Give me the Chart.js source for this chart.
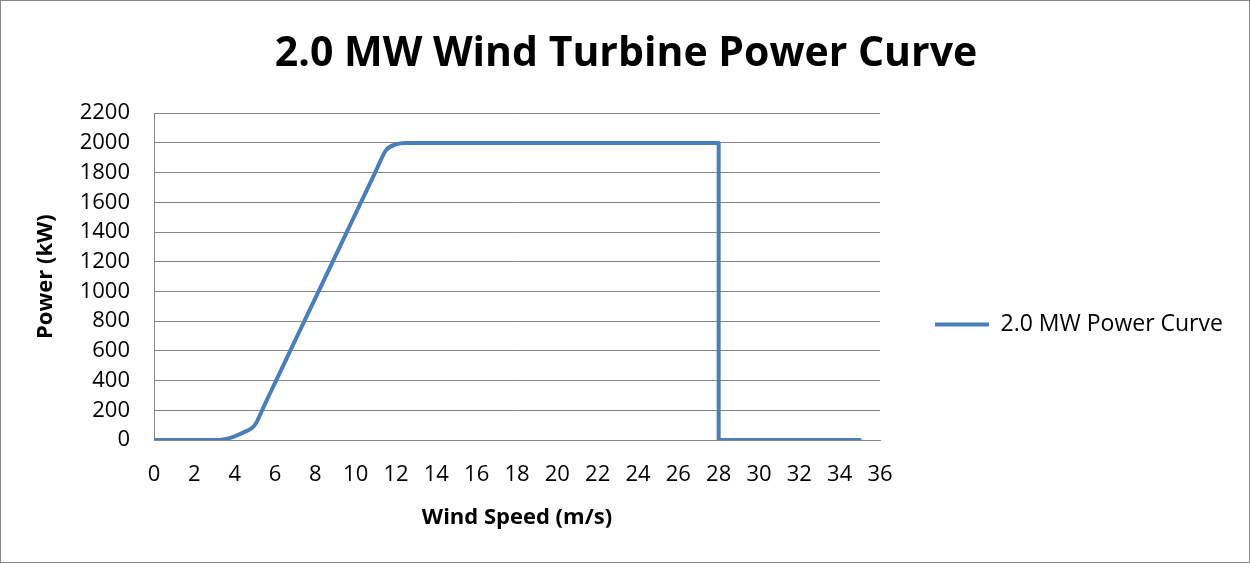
<!DOCTYPE html>
<html>
<head>
<meta charset="utf-8">
<script src="https://cdn.jsdelivr.net/npm/chart.js@4"></script>
<style>
  html, body { margin: 0; padding: 0; background: #fff; }
  #wrap { position: relative; width: 1248px; height: 561px; border: 1px solid #868686; }
</style>
</head>
<body>
<div id="wrap"><canvas id="chart" width="1248" height="561"></canvas></div>
<script>
// Curva de potência da turbina de 2,0 MW
const windSpeed = [0, 1, 2, 3, 3.5, 4, 4.5, 5, 5.5, 6, 7, 8, 9, 10, 11, 11.5, 12, 12.5, 13, 14, 15, 16, 17, 18, 19, 20, 21, 22, 23, 24, 25, 26, 27, 28, 28, 29, 30, 31, 32, 33, 34, 35];
const powerKW   = [0, 0, 0, 0, 6, 25, 55, 100, 242, 385, 670, 955, 1240, 1525, 1810, 1950, 1990, 2000, 2000, 2000, 2000, 2000, 2000, 2000, 2000, 2000, 2000, 2000, 2000, 2000, 2000, 2000, 2000, 2000, 0, 0, 0, 0, 0, 0, 0, 0];
const seriesName = '2.0 MW Power Curve';

const points = windSpeed.map((v, i) => ({ x: v, y: powerKW[i] }));

const ctx = document.getElementById('chart').getContext('2d');
const FONT = "'Open Sans', 'Noto Sans', sans-serif";

// posição da área do gráfico (coordenadas do canvas)
const AREA_LEFT = 153, AREA_RIGHT = 879;

// força a largura da legenda e ajusta título/legenda como no original
const layoutTweaks = {
    id: 'layoutTweaks',
    beforeInit(chart) {
        const legend = chart.legend;
        if (!legend) return;
        const fit = legend.fit;
        legend.fit = function () {
            fit.call(this);
            this.width = chart.width - AREA_RIGHT;
        };
    },
    afterLayout(chart) {
        if (chart.titleBlock) chart.titleBlock.right -= 26;
        if (chart.legend) {
            chart.legend.top += 43;
            chart.legend.bottom += 43;
        }
    }
};

new Chart(ctx, {
    type: 'line',
    data: {
        datasets: [{
            label: seriesName,
            data: points,
            borderColor: '#4a7ebb',
            backgroundColor: '#4a7ebb',
            borderWidth: 4,
            borderCapStyle: 'round',
            borderJoinStyle: 'round',
            pointRadius: 0,
            cubicInterpolationMode: 'monotone',
            fill: false
        }]
    },
    plugins: [layoutTweaks],
    options: {
        responsive: false,
        animation: false,
        layout: { padding: { left: 28, right: 0, top: 0, bottom: 0 } },
        scales: {
            x: {
                type: 'linear',
                min: 0,
                max: 36,
                afterFit(scale) { scale.height = 122; },
                ticks: { stepSize: 2, color: '#000', font: { family: FONT, size: 22 }, padding: 22 },
                grid: { display: false, drawTicks: false },
                border: { color: '#868686', width: 1 },
                title: { display: true, text: 'Wind Speed (m/s)', color: '#000', font: { family: FONT, size: 22, weight: 'bold' }, padding: { top: 0, bottom: 31 } }
            },
            y: {
                min: 0,
                max: 2200,
                afterFit(scale) { scale.width = AREA_LEFT - 28; },
                ticks: { stepSize: 200, color: '#000', font: { family: FONT, size: 22 }, padding: 24, callback: v => v },
                grid: { color: '#868686', lineWidth: 1, drawTicks: false },
                border: { color: '#868686', width: 1 },
                title: { display: true, text: 'Power (kW)', color: '#000', font: { family: FONT, size: 22, weight: 'bold' }, padding: 4 }
            }
        },
        plugins: {
            title: {
                display: true,
                text: '2.0 MW Wind Turbine Power Curve',
                color: '#000',
                font: { family: FONT, size: 41, weight: 'bold' },
                padding: { top: 29, bottom: 34 }
            },
            legend: {
                position: 'right',
                labels: {
                    usePointStyle: true,
                    pointStyle: 'line',
                    pointStyleWidth: 54,
                    padding: 55,
                    color: '#000',
                    font: { family: FONT, size: 23 }
                }
            },
            tooltip: { enabled: false }
        }
    }
});
</script>
</body>
</html>
